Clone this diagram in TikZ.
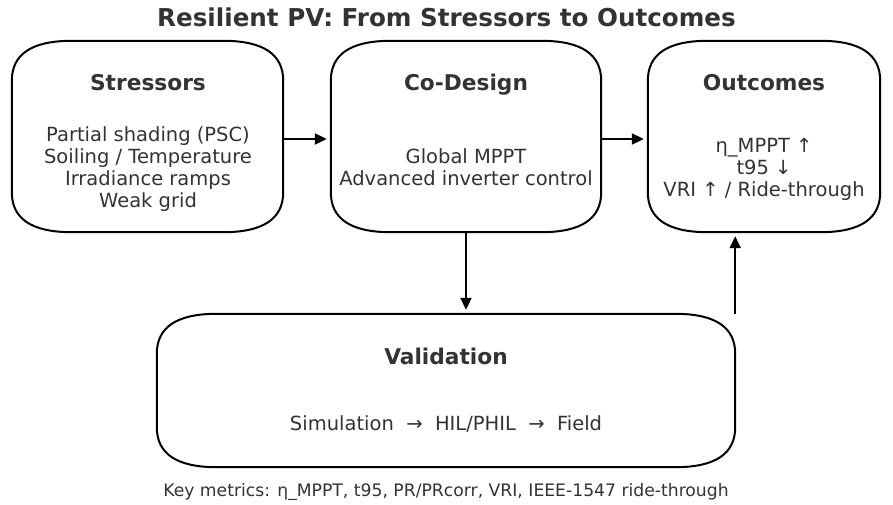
\documentclass[tikz,border=0pt]{standalone}
\usepackage{fontspec}
\setmainfont{DejaVu Sans}
\usetikzlibrary{arrows.meta,calc}
\definecolor{txt}{HTML}{333333}
\tikzset{
  boxshape/.style={draw=none, inner sep=0pt, minimum height=191pt},
  boxline/.style={line width=2pt, line join=round},
  conn/.style={line width=2pt, -{Triangle[length=12pt,width=11pt]}, shorten >=4pt},
  maintitle/.style={font=\bfseries\fontsize{24.6}{29}\selectfont, text=txt, inner sep=0pt, anchor=base},
  boxtitle/.style={font=\bfseries\fontsize{21.7}{26}\selectfont, text=txt, inner sep=0pt, anchor=base},
  bodytext/.style={font=\fontsize{19.5}{22}\selectfont, text=txt, inner sep=0pt, align=center, anchor=center},
  linetext/.style={font=\fontsize{19.5}{22}\selectfont, text=txt, inner sep=0pt, anchor=base},
  notetext/.style={font=\fontsize{17.2}{20}\selectfont, text=txt, inner sep=0pt, anchor=base},
}
\newcommand{\softbox}[3]{%
  \draw[boxline]
    ($(#1.north west)+(#2,0)$) -- ($(#1.north east)+(-#2,0)$)
    .. controls ($(#1.north east)+(-#2/3,0)$) and ($(#1.north east)+(0,#3/3)$) .. ($(#1.north east)+(0,#3)$)
    -- ($(#1.south east)+(0,-#3)$)
    .. controls ($(#1.south east)+(0,-#3/3)$) and ($(#1.south east)+(-#2/3,0)$) .. ($(#1.south east)+(-#2,0)$)
    -- ($(#1.south west)+(#2,0)$)
    .. controls ($(#1.south west)+(#2/3,0)$) and ($(#1.south west)+(0,-#3/3)$) .. ($(#1.south west)+(0,-#3)$)
    -- ($(#1.north west)+(0,#3)$)
    .. controls ($(#1.north west)+(0,#3/3)$) and ($(#1.north west)+(#2/3,0)$) .. ($(#1.north west)+(#2,0)$)
    -- cycle;
}
\begin{document}
\begin{tikzpicture}[x=1pt,y=-1pt]
  \fill[white] (0,0) rectangle (893,505);
  \useasboundingbox (0,0) rectangle (893,505);

  % box shapes
  \node[boxshape, minimum width=271pt] (S) at (147.5,136.5) {};
  \node[boxshape, minimum width=270pt] (C) at (466,136.5) {};
  \node[boxshape, minimum width=232pt] (O) at (764,136.5) {};
  \node[boxshape, minimum width=578pt, minimum height=153pt] (V) at (446,390.5) {};
  \softbox{S}{60}{40}
  \softbox{C}{60}{40}
  \softbox{O}{60}{40}
  \softbox{V}{60}{40}

  % texts
  \node[maintitle] (title) at (446.5,26.5) {Resilient PV: From Stressors to Outcomes};

  \node[boxtitle] (St) at (148,91) {Stressors};
  \node[bodytext] (Sb) at (148,169.8) {\strut Partial shading (PSC)\\Soiling / Temperature\\Irradiance ramps\\Weak grid\strut};

  \node[boxtitle] (Ct) at (466,91) {Co-Design};
  \node[bodytext] (Cb) at (466,170.5) {\strut Global MPPT\\Advanced inverter control\strut};

  \node[boxtitle] (Ot) at (764,91) {Outcomes};
  \node[bodytext] (Ob) at (764,170.6) {\strut η\_MPPT ↑\\t95 ↓\\VRI ↑ / Ride-through\strut};

  \node[boxtitle] (Vt) at (446,364) {Validation};
  \node[linetext] (Vb) at (446,430) {Simulation\ \ →\ \ HIL/PHIL\ \ →\ \ Field};

  \node[notetext] (note) at (446,496) {Key metrics: η\_MPPT, t95, PR/PRcorr, VRI, IEEE-1547 ride-through};

  % connectors
  \draw[conn] ([yshift=-2.5pt]S.east) -- ([yshift=-2.5pt]C.west);
  \draw[conn] ([yshift=-2.5pt]C.east) -- ([yshift=-2.5pt]O.west);
  \draw[conn] (C.south) -- (C.south |- V.north);
  \draw[conn] (V.north east) -- (V.north east |- O.south);
\end{tikzpicture}
\end{document}
